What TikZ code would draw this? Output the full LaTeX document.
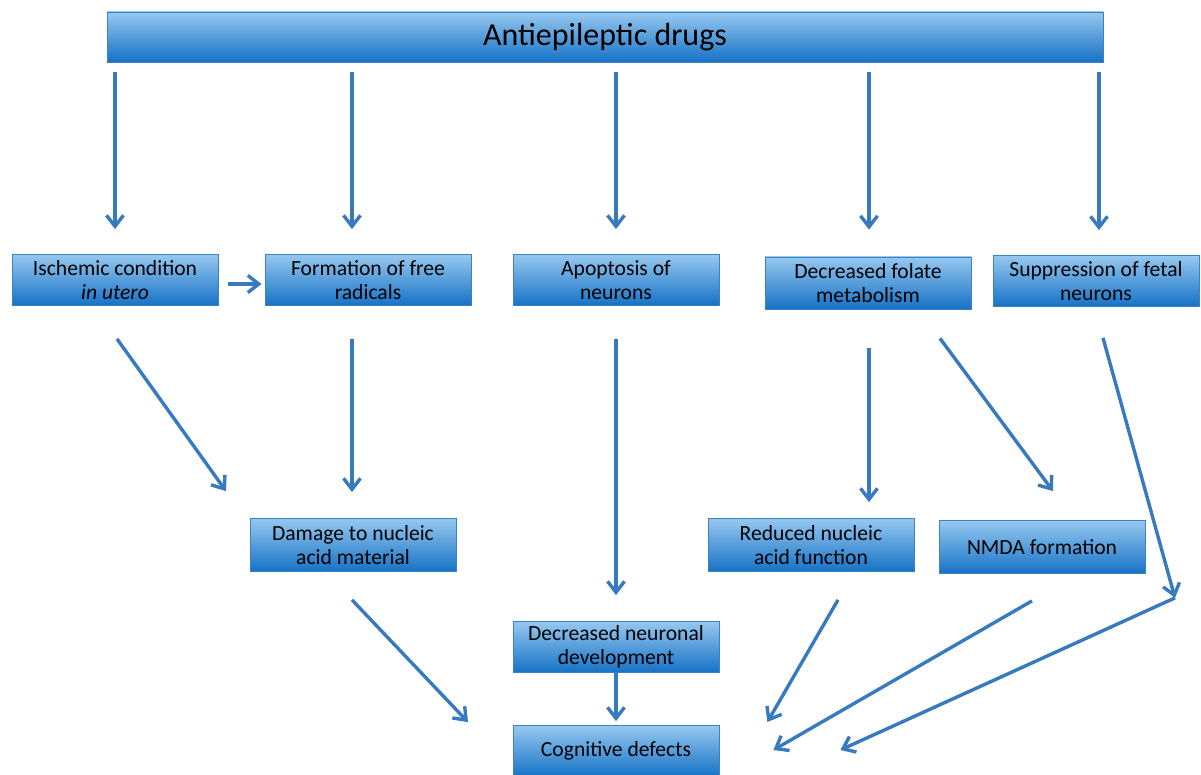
\documentclass[tikz,border=0pt]{standalone}
\usepackage{fontspec}
\setmainfont{Carlito}
\usetikzlibrary{arrows.meta, positioning, calc}

\definecolor{boxtop}{RGB}{150,200,240}
\definecolor{boxmid}{RGB}{78,158,226}
\definecolor{boxbot}{RGB}{22,114,198}
\definecolor{boxline}{RGB}{60,130,195}
\definecolor{arrowblue}{RGB}{55,122,192}

\begin{document}
\begin{tikzpicture}[
  x=0.5pt, y=-0.5pt,
  % Base style for boxes
  basebox/.style={draw=boxline, line width=0.4pt, top color=boxtop, middle color=boxmid, bottom color=boxbot,
                  align=center, inner sep=1pt, text=black, font=\fontsize{10.8}{12.2}\selectfont},
  % Styles inheriting from basebox
  stepbox/.style={basebox, minimum width=103pt, minimum height=25.5pt},
  headbox/.style={basebox, minimum width=498pt, minimum height=25pt, font=\fontsize{16}{18}\selectfont},
  % Connectors
  link/.style={draw=arrowblue, line width=1.7pt, -{Straight Barb[length=5.5pt, width=8.5pt]}}
]
  \useasboundingbox (0,0) rectangle (1201,775);

  % Top box
  \node[headbox] (drugs) at (605,37) {Antiepileptic drugs};

  % First row of effects
  \node[stepbox] (isch) at (115,280) {Ischemic condition\\ \textit{in utero}};
  \node[stepbox] (radic) at (368,280) {Formation of free\\ radicals};
  \node[stepbox] (apopt) at (616,280) {Apoptosis of\\ neurons};
  \node[stepbox, minimum height=26pt] (folate) at (868,283) {Decreased folate\\ metabolism};
  \node[stepbox] (suppr) at (1096,281) {Suppression of fetal\\ neurons};

  % Second row
  \node[stepbox, minimum height=26.5pt] (damage) at (353,545) {Damage to nucleic\\ acid material};
  \node[stepbox, minimum height=26.5pt] (reduc) at (811,545) {Reduced nucleic\\ acid function};
  \node[stepbox, minimum height=26.5pt] (nmda) at (1042,547) {NMDA formation};

  % Bottom
  \node[stepbox] (devel) at (616,647) {Decreased neuronal\\ development};
  \node[stepbox] (cogn) at (616,751) {Cognitive defects};

  % Arrows from drugs
  \draw[link] ($(drugs.south -| isch)+(0,10)$) -- ($(isch.north)+(0,-25)$);
  \draw[link] ($(drugs.south -| radic)+(-16,10)$) -- ($(radic.north)+(-16,-25)$);
  \draw[link] ($(drugs.south -| apopt)+(0,10)$) -- ($(apopt.north)+(0,-25)$);
  \draw[link] ($(drugs.south -| folate)+(1,10)$) -- ($(folate.north)+(1,-27)$);
  \draw[link] ($(drugs.south -| suppr)+(3,10)$) -- ($(suppr.north)+(3,-25)$);

  % Arrows between rows
  \draw[link] ($(isch.east)+(10,4)$) -- ($(radic.west)+(-3,4)$);
  \draw[link] ($(isch.south)+(2,33)$) -- ($(damage.north)+(-127,-27)$);
  \draw[link] ($(radic.south)+(-16,33)$) -- ($(damage.north)+(-1,-26)$);
  \draw[link] ($(apopt.south)+(0,33)$) -- ($(devel.north)+(0,-26)$);
  \draw[link] ($(folate.south)+(1,39)$) -- ($(reduc.north)+(58,-16)$);
  \draw[link] ($(folate.south)+(72,29)$) -- ($(nmda.north)+(11,-29)$);
  \coordinate (knee) at ($(suppr.south)+(79,291)$);
  \draw[link] ($(suppr.south)+(7,31)$) -- (knee);

  % Arrows into cognitive defects
  \draw[link] ($(damage.south)+(-1,28)$) -- ($(cogn.north)+(-148,-3)$);
  \draw[link] (devel.south) -- ($(cogn.north)+(0,-4)$);
  \draw[link] ($(reduc.south)+(27,28)$) -- ($(cogn.east)+(48,-29)$);
  \draw[link] ($(nmda.south)+(-10,27)$) -- ($(cogn.east)+(54,-1)$);
  \draw[link] (knee) -- ($(cogn.east)+(121,-1)$);

\end{tikzpicture}
\end{document}
